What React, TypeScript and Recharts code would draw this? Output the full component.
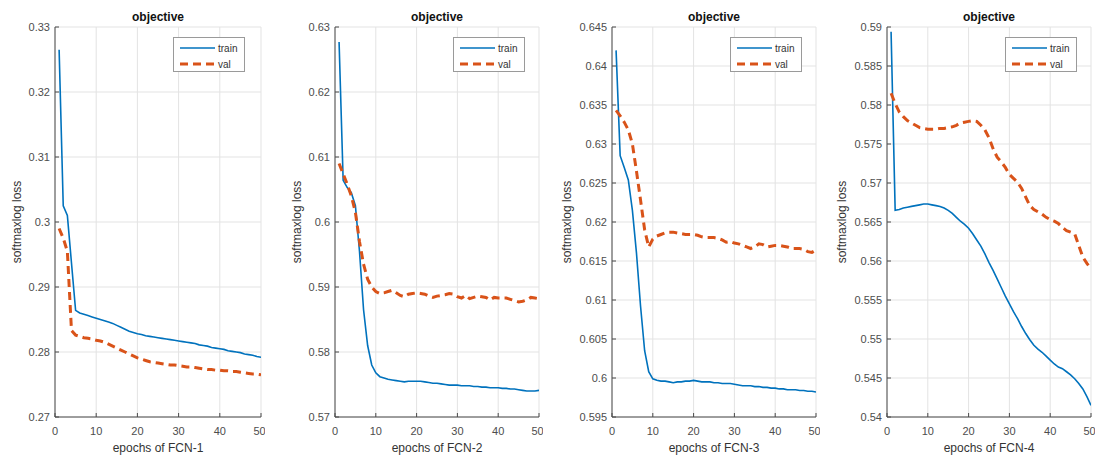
import React from 'react';
import { LineChart, Line, XAxis, YAxis, CartesianGrid } from 'recharts';

const epochs = [1, 2, 3, 4, 5, 6, 7, 8, 9, 10, 11, 12, 13, 14, 15, 16, 17, 18, 19, 20, 21, 22, 23, 24, 25, 26, 27, 28, 29, 30, 31, 32, 33, 34, 35, 36, 37, 38, 39, 40, 41, 42, 43, 44, 45, 46, 47, 48, 49, 50];

const trainFCN1 = [0.3265, 0.3025, 0.3010, 0.2937, 0.2864, 0.2860, 0.2858, 0.2856, 0.2854, 0.2852,
  0.2850, 0.2848, 0.2846, 0.2844, 0.2841, 0.2838, 0.2835, 0.2832, 0.2830, 0.2828,
  0.2827, 0.2825, 0.2824, 0.2823, 0.2822, 0.2821, 0.2820, 0.2819, 0.2818, 0.2817,
  0.2816, 0.2815, 0.2814, 0.2813, 0.2811, 0.2810, 0.2809, 0.2807, 0.2806, 0.2805,
  0.2804, 0.2802, 0.2801, 0.2800, 0.2799, 0.2797, 0.2796, 0.2795, 0.2793, 0.2792];
const valFCN1 = [0.2990, 0.2975, 0.2955, 0.2833, 0.2826, 0.2824, 0.2822, 0.2821, 0.2820, 0.2818,
  0.2817, 0.2815, 0.2812, 0.2809, 0.2806, 0.2803, 0.2800, 0.2797, 0.2794, 0.2791,
  0.2789, 0.2787, 0.2785, 0.2784, 0.2783, 0.2782, 0.2781, 0.2780, 0.2780, 0.2779,
  0.2778, 0.2777, 0.2777, 0.2776, 0.2775, 0.2774, 0.2773, 0.2773, 0.2772, 0.2772,
  0.2771, 0.2771, 0.2770, 0.2770, 0.2769, 0.2768, 0.2767, 0.2766, 0.2766, 0.2765];

const trainFCN2 = [0.6277, 0.6064, 0.6053, 0.6045, 0.6025, 0.5955, 0.5865, 0.5810, 0.5780, 0.5768,
  0.5762, 0.5760, 0.5758, 0.5757, 0.5756, 0.5755, 0.5754, 0.5755, 0.5755, 0.5755,
  0.5755, 0.5754, 0.5753, 0.5752, 0.5752, 0.5751, 0.5750, 0.5749, 0.5749, 0.5749,
  0.5748, 0.5748, 0.5748, 0.5747, 0.5747, 0.5746, 0.5746, 0.5745, 0.5745, 0.5745,
  0.5744, 0.5744, 0.5743, 0.5743, 0.5742, 0.5741, 0.5740, 0.5740, 0.5740, 0.5741];
const valFCN2 = [0.6090, 0.6074, 0.6058, 0.6040, 0.6015, 0.5970, 0.5935, 0.5912, 0.5900, 0.5893,
  0.5890, 0.5891, 0.5893, 0.5895, 0.5891, 0.5887, 0.5885, 0.5889, 0.5890, 0.5891,
  0.5890, 0.5889, 0.5886, 0.5884, 0.5886, 0.5887, 0.5888, 0.5890, 0.5889, 0.5885,
  0.5883, 0.5887, 0.5882, 0.5884, 0.5886, 0.5885, 0.5884, 0.5880, 0.5884, 0.5883,
  0.5883, 0.5883, 0.5881, 0.5879, 0.5877, 0.5878, 0.5880, 0.5884, 0.5883, 0.5882];

const trainFCN3 = [0.6420, 0.6285, 0.6270, 0.6254, 0.6215, 0.6160, 0.6092, 0.6035, 0.6008, 0.5999,
  0.5997, 0.5996, 0.5996, 0.5995, 0.5994, 0.5995, 0.5995, 0.5996, 0.5996, 0.5997,
  0.5996, 0.5995, 0.5995, 0.5995, 0.5994, 0.5994, 0.5993, 0.5993, 0.5993, 0.5992,
  0.5991, 0.5990, 0.5990, 0.5990, 0.5989, 0.5989, 0.5988, 0.5988, 0.5987, 0.5987,
  0.5986, 0.5986, 0.5985, 0.5985, 0.5985, 0.5984, 0.5984, 0.5983, 0.5983, 0.5982];
const valFCN3 = [0.6343, 0.6336, 0.6328, 0.6318, 0.6300, 0.6265, 0.6228, 0.6190, 0.6168, 0.6178,
  0.6182, 0.6184, 0.6186, 0.6187, 0.6187, 0.6186, 0.6185, 0.6184, 0.6184, 0.6184,
  0.6183, 0.6181, 0.6180, 0.6180, 0.6180, 0.6179, 0.6177, 0.6174, 0.6175, 0.6173,
  0.6172, 0.6170, 0.6168, 0.6166, 0.6168, 0.6172, 0.6171, 0.6168, 0.6169, 0.6170,
  0.6170, 0.6169, 0.6168, 0.6166, 0.6166, 0.6166, 0.6165, 0.6162, 0.6161, 0.6164];

const trainFCN4 = [0.5894, 0.5665, 0.5666, 0.5668, 0.5669, 0.5670, 0.5671, 0.5672, 0.5673, 0.5673,
  0.5672, 0.5671, 0.5670, 0.5668, 0.5665, 0.5661, 0.5656, 0.5651, 0.5647, 0.5642,
  0.5635, 0.5627, 0.5619, 0.5609, 0.5598, 0.5588, 0.5577, 0.5566, 0.5555, 0.5545,
  0.5535, 0.5526, 0.5516, 0.5507, 0.5499, 0.5492, 0.5487, 0.5483, 0.5478, 0.5473,
  0.5468, 0.5464, 0.5462, 0.5458, 0.5454, 0.5449, 0.5443, 0.5436, 0.5426, 0.5415];
const valFCN4 = [0.5815, 0.5802, 0.5791, 0.5785, 0.5780, 0.5777, 0.5774, 0.5771, 0.5770, 0.5769,
  0.5769, 0.5769, 0.5770, 0.5770, 0.5771, 0.5772, 0.5774, 0.5777, 0.5778, 0.5779,
  0.5780, 0.5779, 0.5774, 0.5768, 0.5758, 0.5744, 0.5733, 0.5727, 0.5720, 0.5711,
  0.5706, 0.5701, 0.5693, 0.5682, 0.5671, 0.5666, 0.5663, 0.5660, 0.5656, 0.5653,
  0.5651, 0.5648, 0.5643, 0.5639, 0.5637, 0.5635, 0.5620, 0.5605, 0.5597, 0.5590];

const xTicks = [0, 10, 20, 30, 40, 50];
const yTicksFCN1 = [0.27, 0.28, 0.29, 0.3, 0.31, 0.32, 0.33];
const yTicksFCN2 = [0.57, 0.58, 0.59, 0.6, 0.61, 0.62, 0.63];
const yTicksFCN3 = [0.595, 0.6, 0.605, 0.61, 0.615, 0.62, 0.625, 0.63, 0.635, 0.64, 0.645];
const yTicksFCN4 = [0.54, 0.545, 0.55, 0.555, 0.56, 0.565, 0.57, 0.575, 0.58, 0.585, 0.59];

const xLabels = ['epochs of FCN-1', 'epochs of FCN-2', 'epochs of FCN-3', 'epochs of FCN-4'];
const titleText = 'objective';
const yLabelText = 'softmaxlog loss';
const seriesNames = ['train', 'val'];

const FONT = '"Liberation Sans", Arial, Helvetica, sans-serif';
const TRAIN_COLOR = '#0072BD';
const VAL_COLOR = '#D95319';
const AXIS_COLOR = '#4a4a4a';
const GRID_COLOR = '#e3e3e3';

const PLOT_TOP = 27;
const PLOT_H = 390;
const YAXIS_W = 55;

const fmt = (v: number) => String(+v.toFixed(3));

function LegendBox() {
  return (
    <svg width={72} height={35} style={{ display: 'block' }}>
      <rect x={0.5} y={0.5} width={71} height={34} fill="#fff" stroke="#9a9a9a" strokeWidth={1} />
      <line x1={7} x2={42} y1={11} y2={11} stroke={TRAIN_COLOR} strokeWidth={1.6} />
      <text x={45} y={14.5} fontSize={10} fill="#333" fontFamily={FONT}>{seriesNames[0]}</text>
      <line x1={7} x2={42} y1={27} y2={27} stroke={VAL_COLOR} strokeWidth={3} strokeDasharray="8 5" />
      <text x={45} y={30.5} fontSize={10} fill="#333" fontFamily={FONT}>{seriesNames[1]}</text>
    </svg>
  );
}

type PanelProps = {
  plotLeft: number;
  plotWidth: number;
  train: number[];
  val: number[];
  yTicks: number[];
  xLabel: string;
  yLabelGap: number;
};

function Panel({ plotLeft, plotWidth, train, val, yTicks, xLabel, yLabelGap }: PanelProps) {
  const data = epochs.map((e, i) => ({ epoch: e, train: train[i], val: val[i] }));
  const chartLeft = plotLeft - YAXIS_W;
  const chartWidth = YAXIS_W + plotWidth + 4;
  const domain: [number, number] = [yTicks[0], yTicks[yTicks.length - 1]];
  const tickStyle = { fontSize: 11, fill: '#4d4d4d', fontFamily: FONT };
  const cx = YAXIS_W + plotWidth / 2;
  return (
    <div style={{ position: 'absolute', left: chartLeft, top: 0, width: chartWidth, height: 456 }}>
      <LineChart
        width={chartWidth}
        height={456}
        data={data}
        margin={{ top: PLOT_TOP, right: 4, bottom: 0, left: 0 }}
      >
        <CartesianGrid xAxisId="b" yAxisId="l" stroke={GRID_COLOR} strokeWidth={1} />
        <XAxis
          xAxisId="b"
          dataKey="epoch"
          type="number"
          domain={[0, 50]}
          ticks={xTicks}
          height={456 - PLOT_TOP - PLOT_H}
          tickSize={-4}
          tickMargin={14}
          tick={tickStyle}
          stroke={AXIS_COLOR}
          allowDataOverflow
        />
        <XAxis
          xAxisId="t"
          orientation="top"
          dataKey="epoch"
          type="number"
          domain={[0, 50]}
          ticks={xTicks}
          height={0}
          tickSize={-4}
          tick={false}
          stroke={AXIS_COLOR}
          allowDataOverflow
        />
        <YAxis
          yAxisId="l"
          type="number"
          domain={domain}
          ticks={yTicks}
          width={YAXIS_W}
          tickSize={-4}
          tickMargin={9}
          tick={tickStyle}
          tickFormatter={fmt}
          stroke={AXIS_COLOR}
          allowDataOverflow
        />
        <YAxis
          yAxisId="r"
          orientation="right"
          type="number"
          domain={domain}
          ticks={yTicks}
          width={0}
          tickSize={-4}
          tick={false}
          stroke={AXIS_COLOR}
          allowDataOverflow
        />
        <Line
          xAxisId="b"
          yAxisId="l"
          type="linear"
          dataKey="train"
          name={seriesNames[0]}
          stroke={TRAIN_COLOR}
          strokeWidth={1.6}
          dot={false}
          isAnimationActive={false}
        />
        <Line
          xAxisId="b"
          yAxisId="l"
          type="linear"
          dataKey="val"
          name={seriesNames[1]}
          stroke={VAL_COLOR}
          strokeWidth={3}
          strokeDasharray="8 5"
          dot={false}
          isAnimationActive={false}
        />
      </LineChart>
      <div style={{ position: 'absolute', left: 173, top: 37 }}>
        <LegendBox />
      </div>
      <svg
        width={chartWidth}
        height={456}
        style={{ position: 'absolute', left: 0, top: 0, pointerEvents: 'none' }}
      >
        <text x={cx} y={21} textAnchor="middle" fontSize={12} fontWeight="bold" fill="#111" fontFamily={FONT}>
          {titleText}
        </text>
        <text x={cx} y={452} textAnchor="middle" fontSize={12} fill="#333" fontFamily={FONT}>
          {xLabel}
        </text>
        <text
          x={YAXIS_W - yLabelGap}
          y={PLOT_TOP + PLOT_H / 2}
          textAnchor="middle"
          fontSize={12}
          fill="#333"
          fontFamily={FONT}
          transform={`rotate(-90 ${YAXIS_W - yLabelGap} ${PLOT_TOP + PLOT_H / 2})`}
          dominantBaseline="central"
        >
          {yLabelText}
        </text>
      </svg>
    </div>
  );
}

export default function App() {
  return (
    <div style={{ position: 'absolute', left: 0, top: 0, width: 1098, height: 456, background: '#fff', overflow: 'hidden' }}>
      <Panel plotLeft={55} plotWidth={206} train={trainFCN1} val={valFCN1} yTicks={yTicksFCN1} xLabel={xLabels[0]} yLabelGap={38} />
      <Panel plotLeft={335} plotWidth={204} train={trainFCN2} val={valFCN2} yTicks={yTicksFCN2} xLabel={xLabels[1]} yLabelGap={38} />
      <Panel plotLeft={612} plotWidth={204} train={trainFCN3} val={valFCN3} yTicks={yTicksFCN3} xLabel={xLabels[2]} yLabelGap={45} />
      <Panel plotLeft={887} plotWidth={204} train={trainFCN4} val={valFCN4} yTicks={yTicksFCN4} xLabel={xLabels[3]} yLabelGap={45} />
    </div>
  );
}
